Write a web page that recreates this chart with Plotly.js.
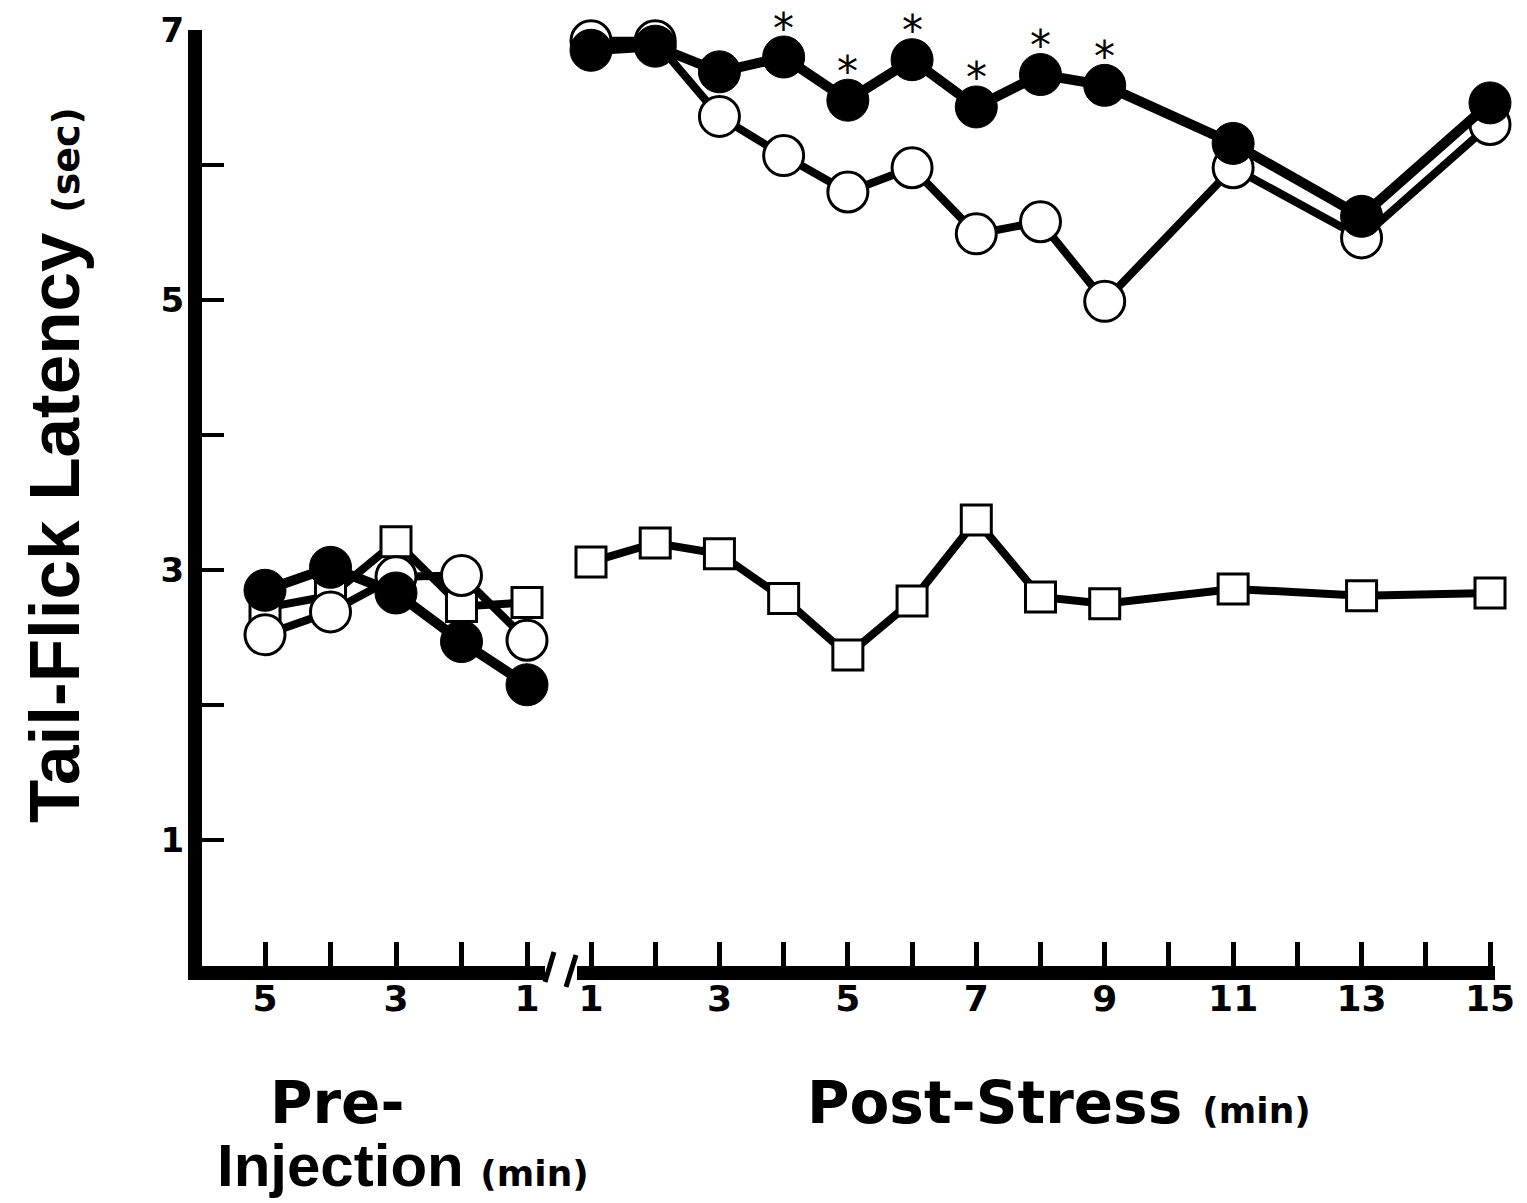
<!DOCTYPE html>
<html>
<head>
<meta charset="utf-8">
<script src="https://cdn.plot.ly/plotly-3.0.1.min.js"></script>
<style>html,body{margin:0;padding:0;background:#fff;}#chart{width:1527px;height:1203px;}</style>
</head>
<body>
<div id="chart"></div>
<script>
// ---- data ----
const preTimes = [5, 4, 3, 2, 1];
const postTimes = [1, 2, 3, 4, 5, 6, 7, 8, 9, 11, 13, 15];
const preFilled = [2.85, 3.02, 2.83, 2.47, 2.15];
const preOpen = [2.52, 2.69, 2.95, 2.96, 2.48];
const preSquare = [2.72, 2.81, 3.21, 2.73, 2.76];
const postFilled = [6.85, 6.88, 6.69, 6.80, 6.48, 6.78, 6.43, 6.67, 6.59, 6.16, 5.62, 6.46];
const postOpen = [6.92, 6.92, 6.36, 6.07, 5.80, 5.98, 5.49, 5.58, 4.99, 5.98, 5.46, 6.30];
const postSquare = [3.06, 3.20, 3.12, 2.79, 2.37, 2.77, 3.37, 2.80, 2.75, 2.86, 2.81, 2.83];
const sigTimes = [4, 5, 6, 7, 8, 9];
const preTickVals = [5, 4, 3, 2, 1];
const preTickText = ['5', '', '3', '', '1'];
const postTickVals = [1, 2, 3, 4, 5, 6, 7, 8, 9, 10, 11, 12, 13, 14, 15];
const postTickText = ['1', '', '3', '', '5', '', '7', '', '9', '', '11', '', '13', '', '15'];
const yTickVals = [1, 2, 3, 4, 5, 6, 7];
const yTickText = ['1', '', '3', '', '5', '', '7'];

// ---- styles ----
const squareMarker = {symbol: 'square', size: 30, color: '#fff', line: {color: '#000', width: 3}};
const openMarker = {symbol: 'circle', size: 40, color: '#fff', line: {color: '#000', width: 3}};
const filledMarker = {symbol: 'circle', size: 42, color: '#000', line: {color: '#000', width: 1}};

function tr(x, y, xa, marker, lw) {
  return {x: x, y: y, xaxis: xa, yaxis: 'y', type: 'scatter', mode: 'lines+markers',
          line: {color: '#000', width: lw}, marker: marker, cliponaxis: false,
          showlegend: false, hoverinfo: 'skip'};
}

const data = [
  tr(preTimes, preSquare, 'x', squareMarker, 8),
  tr(postTimes, postSquare, 'x2', squareMarker, 8),
  tr(preTimes, preOpen, 'x', openMarker, 8),
  tr(postTimes, postOpen, 'x2', openMarker, 8),
  tr(preTimes, preFilled, 'x', filledMarker, 10),
  tr(postTimes, postFilled, 'x2', filledMarker, 10)
];

const dejaBold = (size) => ({family: 'DejaVu Sans, sans-serif', size: size, color: '#000', weight: 700});
const libBold = (size) => ({family: 'Liberation Sans, Arial, sans-serif', size: size, color: '#000', weight: 700});

const annotations = sigTimes.map(t => ({
  x: t, y: postFilled[postTimes.indexOf(t)], xref: 'x2', yref: 'y',
  text: '*', showarrow: false, yshift: 29, xanchor: 'center', yanchor: 'middle',
  font: {family: 'DejaVu Sans, sans-serif', size: 42, color: '#000'}
}));

// plot-area geometry in pixels
const L = 202, R = 1495, T = 30, B = 966;
const W = R - L, H = B - T;
const px = p => (p - L) / W;
const py = q => (B - q) / H;
const small = "<span style='font-family:DejaVu Sans;font-size:38px'>";
const smallMin = "<span style='font-family:DejaVu Sans;font-size:36px'>";

annotations.push(
  {xref: 'paper', yref: 'paper', x: px(54), y: py(465), textangle: -90, showarrow: false,
   xanchor: 'center', yanchor: 'middle',
   text: 'Tail-Flick Latency ' + small + '(sec)</span>', font: libBold(71)},
  {xref: 'paper', yref: 'paper', x: px(268), y: py(1103), showarrow: false,
   xanchor: 'left', yanchor: 'middle', text: 'Pre-', font: dejaBold(58)},
  {xref: 'paper', yref: 'paper', x: px(215), y: py(1165), showarrow: false,
   xanchor: 'left', yanchor: 'middle', text: 'Injection ' + smallMin + '(min)</span>', font: libBold(60)},
  {xref: 'paper', yref: 'paper', x: px(805), y: py(1103), showarrow: false,
   xanchor: 'left', yanchor: 'middle', text: 'Post-Stress ' + smallMin + '(min)</span>', font: dejaBold(58)}
);

const shapes = [
  {type: 'line', xref: 'paper', yref: 'paper', x0: px(545), y0: py(982), x1: px(554), y1: py(952),
   line: {color: '#000', width: 5}},
  {type: 'line', xref: 'paper', yref: 'paper', x0: px(566), y0: py(987), x1: px(576), y1: py(955),
   line: {color: '#000', width: 5}}
];

const axisCommon = {
  showline: true, linecolor: '#000', linewidth: 14, ticks: 'inside', ticklen: 24, tickwidth: 5,
  tickcolor: '#000', showgrid: false, zeroline: false, tickfont: dejaBold(36), tickmode: 'array',
  ticklabelstandoff: -12, fixedrange: true
};

// pixel positions of ticks: pre 5 -> 265, pre 1 -> 527; post 1 -> 591, post 15 -> 1490
const prePx = 65.5, postPx = 64.2;
const layout = {
  width: 1527, height: 1203,
  margin: {l: L, r: 1527 - R, t: T, b: 1203 - B},
  paper_bgcolor: '#fff', plot_bgcolor: '#fff',
  showlegend: false,
  xaxis: Object.assign({}, axisCommon, {domain: [0, px(545)],
    range: [5 + (265 - L) / prePx, 1 - (545 - 527) / prePx], anchor: 'y',
    tickvals: preTickVals, ticktext: preTickText}),
  xaxis2: Object.assign({}, axisCommon, {domain: [px(577), 1],
    range: [1 - (591 - 577) / postPx, 15 + (R - 1490) / postPx], anchor: 'y',
    tickvals: postTickVals, ticktext: postTickText}),
  yaxis: Object.assign({}, axisCommon, {range: [0.067, 7], anchor: 'x', ticklen: 22, tickwidth: 4,
    tickvals: yTickVals, ticktext: yTickText, tickfont: dejaBold(34), ticklabelstandoff: -3}),
  annotations: annotations,
  shapes: shapes
};

Plotly.newPlot('chart', data, layout, {staticPlot: true});
</script>
</body>
</html>
